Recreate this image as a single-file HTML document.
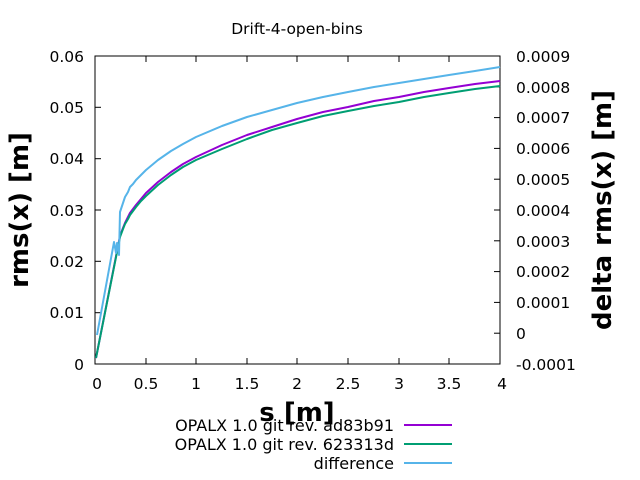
<!DOCTYPE html>
<html><head><style>
body{margin:0;background:#fff}
svg{display:block}
text{font-family:"DejaVu Sans","Liberation Sans",sans-serif;fill:#000}
</style></head><body>
<svg width="640" height="480" viewBox="0 0 640 480" xmlns="http://www.w3.org/2000/svg">
<text x="297" y="34" font-size="15.5" text-anchor="middle">Drift-4-open-bins</text>
<rect x="95" y="56" width="405" height="308" fill="none" stroke="#000" stroke-width="1"/>
<g stroke="#000" stroke-width="1">
<line x1="95" y1="312.7" x2="101" y2="312.7"/><line x1="95" y1="261.3" x2="101" y2="261.3"/>
<line x1="95" y1="210" x2="101" y2="210"/><line x1="95" y1="158.7" x2="101" y2="158.7"/>
<line x1="95" y1="107.3" x2="101" y2="107.3"/>
<line x1="146" y1="364" x2="146" y2="358"/><line x1="196" y1="364" x2="196" y2="358"/>
<line x1="247" y1="364" x2="247" y2="358"/><line x1="297" y1="364" x2="297" y2="358"/>
<line x1="348" y1="364" x2="348" y2="358"/><line x1="399" y1="364" x2="399" y2="358"/>
<line x1="449" y1="364" x2="449" y2="358"/>
<line x1="146" y1="56" x2="146" y2="62"/><line x1="196" y1="56" x2="196" y2="62"/>
<line x1="247" y1="56" x2="247" y2="62"/><line x1="297" y1="56" x2="297" y2="62"/>
<line x1="348" y1="56" x2="348" y2="62"/><line x1="399" y1="56" x2="399" y2="62"/>
<line x1="449" y1="56" x2="449" y2="62"/>
<line x1="500" y1="333.2" x2="494" y2="333.2"/><line x1="500" y1="302.4" x2="494" y2="302.4"/>
<line x1="500" y1="271.6" x2="494" y2="271.6"/><line x1="500" y1="240.8" x2="494" y2="240.8"/>
<line x1="500" y1="210" x2="494" y2="210"/><line x1="500" y1="179.2" x2="494" y2="179.2"/>
<line x1="500" y1="148.4" x2="494" y2="148.4"/><line x1="500" y1="117.6" x2="494" y2="117.6"/>
<line x1="500" y1="86.8" x2="494" y2="86.8"/>
</g>
<g font-size="15.5" text-anchor="end">
<text x="84" y="370">0</text><text x="84" y="318">0.01</text><text x="84" y="267">0.02</text>
<text x="84" y="216">0.03</text><text x="84" y="164">0.04</text><text x="84" y="113">0.05</text>
<text x="84" y="62">0.06</text>
</g>
<g font-size="15.5" text-anchor="start">
<text x="516" y="370">-0.0001</text><text x="516" y="339">0</text><text x="516" y="308">0.0001</text>
<text x="516" y="277">0.0002</text><text x="516" y="247">0.0003</text><text x="516" y="216">0.0004</text>
<text x="516" y="185">0.0005</text><text x="516" y="154">0.0006</text><text x="516" y="123">0.0007</text>
<text x="516" y="93">0.0008</text><text x="516" y="62">0.0009</text>
</g>
<g font-size="15.5" text-anchor="middle">
<text x="97" y="389">0</text><text x="146" y="389">0.5</text><text x="196" y="389">1</text>
<text x="247" y="389">1.5</text><text x="297" y="389">2</text><text x="348" y="389">2.5</text>
<text x="399" y="389">3</text><text x="449" y="389">3.5</text><text x="502" y="389">4</text>
</g>
<text x="297" y="421" font-size="26" font-weight="bold" text-anchor="middle">s [m]</text>
<text transform="translate(28,210) rotate(-90)" font-size="26" font-weight="bold" text-anchor="middle">rms(x) [m]</text>
<text transform="translate(611,210) rotate(-90)" font-size="26" font-weight="bold" text-anchor="middle">delta rms(x) [m]</text>
<g fill="none" stroke-width="2" stroke-linejoin="round">
<polyline stroke="#9400d3" points="96,358 120,236 123,228 125,223 128,217 130,213 133,209 136,205 141,199 146,193 158,182 171,172 183,164 196,157 222,145 247,135 272,127 297,119 323,112 348,107 374,101 399,97 424,92 449,88 475,84 500,81"/>
<polyline stroke="#009e73" points="96,358 120,237 123,229 125,224 128,219 130,215 133,211 136,207 141,201 146,196 158,185 171,175 183,167 196,160 222,149 247,139 272,130 297,123 323,116 348,111 374,106 399,102 424,97 449,93 475,89 500,86"/>
<polyline stroke="#56b4e9" points="97,335 114,242 116,253 117,243 119,255 120,212 123,203 125,197 128,192 130,187 133,184 136,180 141,175 146,170 158,160 171,151 183,144 196,137 222,126 247,117 272,110 297,103 323,97 348,92 374,87 399,83 424,79 449,75 475,71 500,67"/>
</g>
<g font-size="16" text-anchor="end">
<text x="394" y="431">OPALX 1.0 git rev. ad83b91</text>
<text x="394" y="450">OPALX 1.0 git rev. 623313d</text>
<text x="394" y="469">difference</text>
</g>
<g stroke-width="2">
<line x1="404" y1="425" x2="452" y2="425" stroke="#9400d3"/>
<line x1="404" y1="444" x2="452" y2="444" stroke="#009e73"/>
<line x1="404" y1="463" x2="452" y2="463" stroke="#56b4e9"/>
</g>
</svg>
</body></html>
